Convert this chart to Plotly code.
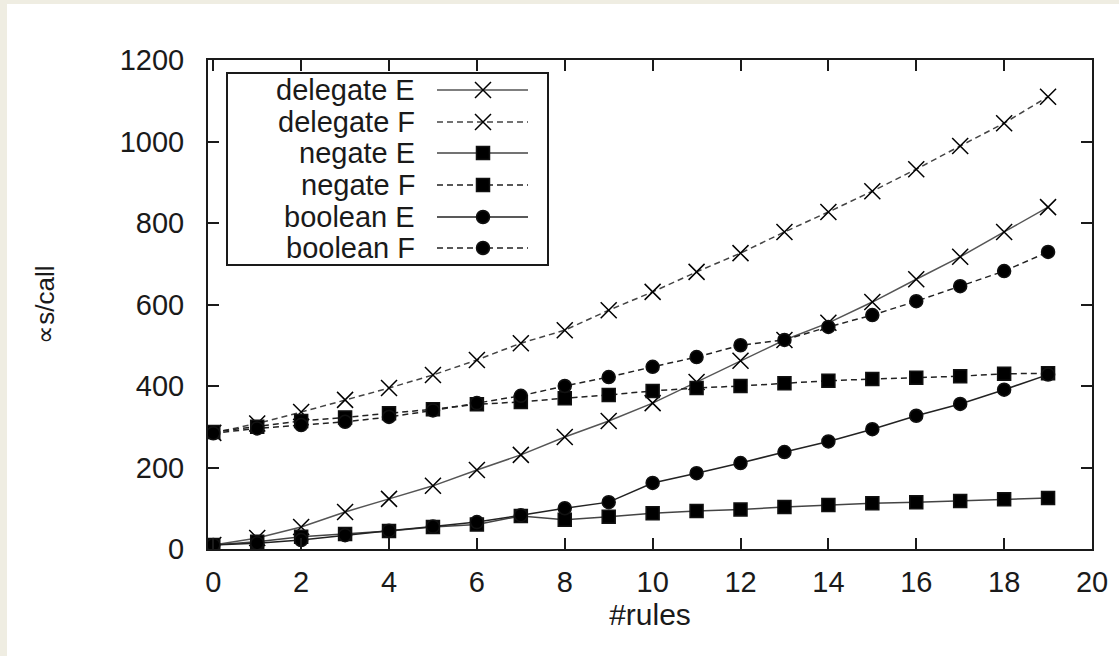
import plotly.graph_objects as go

rules = list(range(20))

delegate_E = [10, 27, 54, 91, 123, 155, 194, 231, 275, 314, 358, 410, 462, 513, 555, 606, 662, 717, 778, 839]
delegate_F = [285, 308, 336, 366, 395, 427, 464, 505, 537, 586, 631, 680, 726, 778, 827, 878, 932, 989, 1045, 1110]
negate_E = [10, 18, 30, 37, 44, 54, 60, 81, 72, 79, 88, 93, 97, 103, 108, 112, 115, 118, 122, 125]
negate_F = [287, 300, 314, 323, 333, 343, 355, 361, 370, 378, 388, 395, 400, 407, 413, 417, 420, 424, 430, 431]
boolean_E = [10, 14, 22, 34, 45, 55, 66, 83, 100, 115, 162, 186, 211, 238, 264, 294, 327, 356, 391, 428]
boolean_F = [284, 296, 304, 312, 324, 340, 358, 376, 400, 422, 447, 471, 500, 513, 545, 574, 608, 645, 682, 729]

series_names = ["delegate E", "delegate F", "negate E", "negate F", "boolean E", "boolean F"]
series_values = [delegate_E, delegate_F, negate_E, negate_F, boolean_E, boolean_F]
series_symbols = ["x-thin-open", "x-thin-open", "square", "square", "circle", "circle"]
series_dash = ["solid", "6px,4px", "solid", "6px,4px", "solid", "6px,4px"]
series_linecolor = ["#555555", "#444444", "#444444", "#222222", "#222222", "#222222"]

x_ticks = list(range(0, 21, 2))
y_ticks = list(range(0, 1201, 200))

FONT = "Liberation Sans, Arial, sans-serif"
W, H = 1119, 656
L, R, T, B = 208, 1092, 60, 549

fig = go.Figure()

def msize(sym):
    return 16 if sym.startswith("x") else 13

for name, vals, sym, dash, lc in zip(series_names, series_values, series_symbols, series_dash, series_linecolor):
    fig.add_trace(go.Scatter(
        x=rules, y=vals, name=name, mode="lines+markers",
        line=dict(color=lc, width=1.5, dash=dash),
        marker=dict(symbol=sym, size=msize(sym), color="#000000",
                    line=dict(color="#111111", width=1.5)),
        showlegend=False,
    ))

# custom legend (text on left, sample on right, like the original)
leg_left, leg_right, leg_top, leg_bottom = 227, 548, 73, 265
row_y = [90, 122, 153, 185, 217, 248]
text_right = 417
samp_x0, samp_x1, samp_xm = 437, 528, 483

def px2paper_x(px):
    return (px - L) / (R - L)

def px2paper_y(py):
    return (B - py) / (B - T)

shapes = [
    # page background (white panel, beige strips on left and top)
    dict(type="rect", xref="paper", yref="paper",
         x0=px2paper_x(7), x1=px2paper_x(W + 5), y0=px2paper_y(H + 5), y1=px2paper_y(4),
         fillcolor="white", line=dict(width=0), layer="below"),
    # legend box
    dict(type="rect", xref="paper", yref="paper",
         x0=px2paper_x(leg_left), x1=px2paper_x(leg_right),
         y0=px2paper_y(leg_bottom), y1=px2paper_y(leg_top),
         fillcolor="rgba(0,0,0,0)", line=dict(color="#1a1a1a", width=2), layer="above"),
]
annotations = []
for name, ry, sym, dash, lc in zip(series_names, row_y, series_symbols, series_dash, series_linecolor):
    annotations.append(dict(
        text=name, xref="paper", yref="paper",
        x=px2paper_x(text_right), y=px2paper_y(ry),
        xanchor="right", yanchor="middle", showarrow=False,
        font=dict(family=FONT, size=29, color="#1a1a1a"),
    ))
    fig.add_trace(go.Scatter(
        x=[samp_x0, samp_xm, samp_x1], y=[ry, ry, ry], xaxis="x2", yaxis="y2",
        mode="lines", line=dict(color=lc, width=1.5, dash=dash),
        showlegend=False, hoverinfo="skip",
    ))
    fig.add_trace(go.Scatter(
        x=[samp_xm], y=[ry], xaxis="x2", yaxis="y2",
        mode="markers",
        marker=dict(symbol=sym, size=msize(sym), color="#000000",
                    line=dict(color="#111111", width=1.5)),
        showlegend=False, hoverinfo="skip",
    ))

axis_common = dict(
    showline=True, linecolor="#1a1a1a", linewidth=2, mirror="allticks",
    ticks="inside", ticklen=11, tickwidth=1.5, tickcolor="#1a1a1a",
    showgrid=False, zeroline=False,
    tickfont=dict(family=FONT, size=29, color="#1a1a1a"),
)

fig.update_layout(
    width=W, height=H,
    margin=dict(l=L, r=W - R, t=T, b=H - B, pad=0),
    paper_bgcolor="#EFEDE2",
    plot_bgcolor="white",
    showlegend=False,
    xaxis=dict(range=[-0.12, 20], tickvals=x_ticks, ticktext=[str(v) for v in x_ticks],
               title=dict(text="#rules", font=dict(family=FONT, size=30, color="#1a1a1a"), standoff=2),
               ticklabelstandoff=6, **axis_common),
    yaxis=dict(range=[0, 1200], tickvals=y_ticks, ticktext=[str(v) for v in y_ticks],
               title=dict(text="∝s/call", font=dict(family=FONT, size=26, color="#1a1a1a"), standoff=58),
               ticklabelstandoff=16, **axis_common),
    xaxis2=dict(overlaying="x", range=[L, R], visible=False, fixedrange=True),
    yaxis2=dict(overlaying="y", range=[B, T], visible=False, fixedrange=True),
    shapes=shapes,
    annotations=annotations,
)

fig.write_html("out.html",
               config={"displayModeBar": False},
               post_script="document.body.style.margin='0';document.body.style.padding='0';")
